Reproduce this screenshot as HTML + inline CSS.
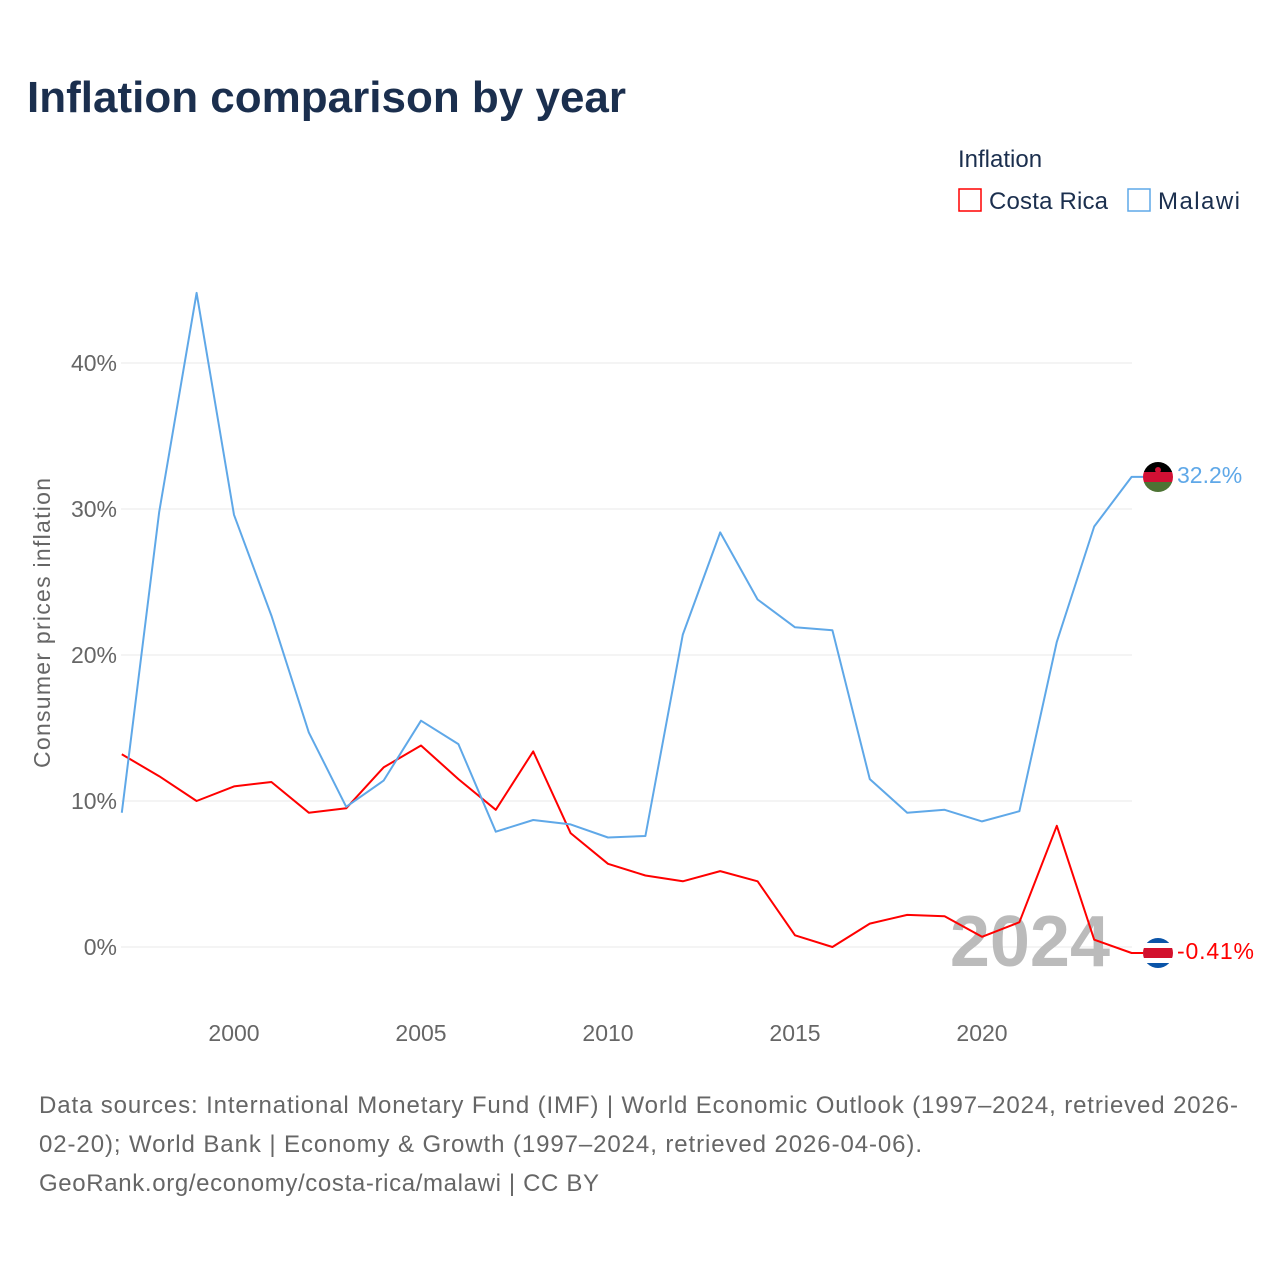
<!DOCTYPE html>
<html><head><meta charset="utf-8"><style>
body{margin:0;background:#fff;font-family:"Liberation Sans",sans-serif;}
svg text{font-family:"Liberation Sans",sans-serif;}
</style></head><body>
<svg width="1280" height="1280" xmlns="http://www.w3.org/2000/svg">
<rect width="1280" height="1280" fill="#fff"/>
<text x="27" y="112" font-size="44" font-weight="bold" fill="#1b2f4e">Inflation comparison by year</text>
<g>
<text x="958" y="167" font-size="24" fill="#1b2f4e">Inflation</text>
<g><rect x="959" y="189" width="22" height="22" fill="none" stroke="#ff0000" stroke-width="1.5"/><text x="989" y="209" font-size="24" fill="#1b2f4e" textLength="119">Costa Rica</text></g>
<g><rect x="1128" y="189" width="22" height="22" fill="none" stroke="#5fa8e8" stroke-width="1.5"/><text x="1158" y="209" font-size="24" fill="#1b2f4e" textLength="82">Malawi</text></g>
</g>
<g id="grid"></g>
<g id="yt"></g>
<g id="xt"></g>
<text transform="translate(50,623) rotate(-90)" text-anchor="middle" font-size="23" fill="#666" textLength="290">Consumer prices inflation</text>
<text x="1110" y="966" text-anchor="end" font-size="72" font-weight="bold" fill="#bbb">2024</text>
<g id="series"></g>
<g>
<clipPath id="c1"><circle cx="1158" cy="477" r="15"/></clipPath>
<g clip-path="url(#c1)"><rect x="1143" y="462" width="30" height="10" fill="#000"/><rect x="1143" y="472" width="30" height="10" fill="#d21034"/><rect x="1143" y="482" width="30" height="10" fill="#4d7334"/><circle cx="1158" cy="470" r="3" fill="#d21034"/></g></g>
<g>
<clipPath id="c2"><circle cx="1158" cy="953" r="15"/></clipPath>
<g clip-path="url(#c2)"><rect x="1143" y="938" width="30" height="30" fill="#fff"/><rect x="1143" y="938" width="30" height="5" fill="#0a54a8"/><rect x="1143" y="963" width="30" height="5" fill="#0a54a8"/><rect x="1143" y="948" width="30" height="10" fill="#d2102c"/></g></g>
<text x="1177" y="483" font-size="23" fill="#5fa8e8">32.2%</text>
<text x="1177" y="959" font-size="23" fill="#ff0000" textLength="77">-0.41%</text>
<g font-size="24" fill="#666">
<text x="39" y="1113" textLength="1199">Data sources: International Monetary Fund (IMF) | World Economic Outlook (1997–2024, retrieved 2026-</text>
<text x="39" y="1152" textLength="883">02-20); World Bank | Economy &amp; Growth (1997–2024, retrieved 2026-04-06).</text>
<text x="39" y="1191" textLength="560">GeoRank.org/economy/costa-rica/malawi | CC BY</text>
</g>
</svg>
<script>
const years=[1997,1998,1999,2000,2001,2002,2003,2004,2005,2006,2007,2008,2009,2010,2011,2012,2013,2014,2015,2016,2017,2018,2019,2020,2021,2022,2023,2024];
const malawi=[9.2,29.8,44.8,29.6,22.7,14.7,9.6,11.4,15.5,13.9,7.9,8.7,8.4,7.5,7.6,21.4,28.4,23.8,21.9,21.7,11.5,9.2,9.4,8.6,9.3,20.9,28.8,32.2];
const costaRica=[13.2,11.7,10.0,11.0,11.3,9.2,9.5,12.3,13.8,11.5,9.4,13.4,7.8,5.7,4.9,4.5,5.2,4.5,0.8,0.0,1.6,2.2,2.1,0.7,1.7,8.3,0.5,-0.41];
const yTicks=[0,10,20,30,40];
const xTicks=[2000,2005,2010,2015,2020];
const NS="http://www.w3.org/2000/svg";
const x=v=>121.8+(v-1997)*37.4;
const y=v=>947-v*14.6;
function mk(t,a,p){const e=document.createElementNS(NS,t);for(const k in a)e.setAttribute(k,a[k]);p.appendChild(e);return e;}
const grid=document.getElementById('grid'),yt=document.getElementById('yt'),xt=document.getElementById('xt'),ser=document.getElementById('series');
yTicks.forEach(t=>{
 const l=mk('line',{x1:121,x2:1132,y1:y(t),y2:y(t),stroke:'#e8e8e8','stroke-width':1},grid);
 
 
 const tx=mk('text',{x:117,y:y(t)+8,'text-anchor':'end','font-size':23,fill:'#666'},yt);
 tx.textContent=t+'%';
 
 
});
xTicks.forEach(t=>{
 const tx=mk('text',{x:x(t),y:1041,'text-anchor':'middle','font-size':23,fill:'#666'},xt);
 tx.textContent=t;
 
 
});
function line(vals,color,name){
 let d=vals.map((v,i)=>(i?'L':'M')+x(years[i]).toFixed(1)+','+y(v).toFixed(1)).join('');
 d+='L1143,'+y(vals[vals.length-1]).toFixed(1);
 const p=mk('path',{d:d,fill:'none',stroke:color,'stroke-width':2,'stroke-linejoin':'round'},ser);
 
 
}
line(costaRica,'#ff0000','costa-rica-line');
line(malawi,'#5fa8e8','malawi-line');
</script>
</body></html>
